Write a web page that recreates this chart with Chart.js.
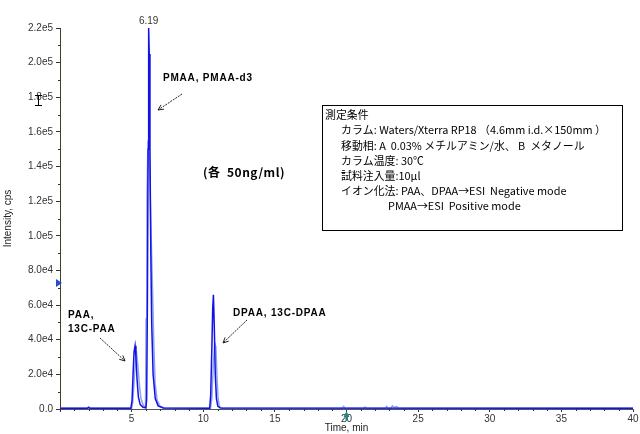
<!DOCTYPE html>
<html><head><meta charset="utf-8">
<script src="https://cdn.jsdelivr.net/npm/chart.js@4"></script>
<style>html,body{margin:0;padding:0;background:#fff;}#wrap{width:640px;height:434px;}</style>
</head><body><div id="wrap"><canvas id="c" width="640" height="434"></canvas></div>
<script>
// ---- data ----
const darkTimes  = [0, 1.9, 2.0, 2.1, 4.95, 5.03, 5.1, 5.17, 5.24, 5.3, 5.38, 5.47, 5.6, 5.8, 6.0, 6.05, 6.1, 6.15, 6.19, 6.23, 6.28, 6.34, 6.4, 6.5, 6.65, 6.85, 7.2, 10.45, 10.52, 10.6, 10.66, 10.71, 10.77, 10.84, 10.92, 11.02, 11.2, 40];
const darkValues = [450, 450, 1100, 450, 450, 5000, 20000, 33000, 36500, 30000, 17000, 7000, 2500, 1000, 700, 6000, 60000, 150000, 220000, 205000, 150000, 90000, 50000, 20000, 6000, 1800, 600, 450, 8000, 35000, 58000, 66000, 48000, 20000, 6000, 1500, 550, 450];
const lightTimes  = [0, 5.0, 5.08, 5.18, 5.28, 5.35, 5.43, 5.53, 5.65, 5.82, 5.97, 6.01, 6.07, 6.14, 6.24, 6.36, 6.47, 6.54, 6.64, 6.78, 7.0, 7.3, 10.5, 10.6, 10.7, 10.8, 10.88, 10.95, 11.03, 11.12, 11.3, 19.7, 19.8, 19.9, 21.2, 21.3, 21.4, 22.7, 22.8, 22.9, 23.1, 23.2, 23.35, 23.5, 23.6, 40];
const lightValues = [450, 450, 4000, 17000, 29000, 32000, 26000, 15000, 6000, 2000, 800, 52000, 120000, 155000, 145000, 100000, 66000, 40000, 15000, 5000, 1500, 550, 450, 6000, 25000, 38000, 36000, 20000, 7000, 1500, 500, 450, 1500, 450, 450, 1200, 450, 450, 1500, 450, 450, 1800, 800, 1500, 450, 450];
const yTickLabels = ['0.0','2.0e4','4.0e4','6.0e4','8.0e4','1.0e5','1.2e5','1.4e5','1.6e5','1.8e5','2.0e5','2.2e5'];
const xTickLabels = ['', '5', '10', '15', '20', '25', '30', '35', '40'];
const peakLabel = '6.19';
const boxLines = [
  '測定条件',
  'カラム: Waters/Xterra RP18 （4.6mm i.d.×150mm ）',
  '移動相: A  0.03% メチルアミン/水、 B  メタノール',
  'カラム温度: 30℃',
  '試料注入量:10μl',
  'イオン化法: PAA、DPAA→ESI  Negative mode',
  'PMAA→ESI  Positive mode'
];

const FONT = '"Liberation Sans", Arial, sans-serif';
const JP = '"Noto Sans CJK JP", sans-serif';

function pts(t, v){ return t.map((x,i)=>({x:x, y:v[i]})); }

function arrow(ctx, x1, y1, x2, y2){
  ctx.save();
  ctx.strokeStyle = '#222'; ctx.lineWidth = 1;
  ctx.setLineDash([2,1]);
  ctx.beginPath(); ctx.moveTo(x1,y1); ctx.lineTo(x2,y2); ctx.stroke();
  ctx.setLineDash([]);
  const a = Math.atan2(y2-y1, x2-x1), L = 6, s = 0.45;
  ctx.beginPath();
  ctx.moveTo(x2 - L*Math.cos(a - s), y2 - L*Math.sin(a - s));
  ctx.lineTo(x2, y2);
  ctx.lineTo(x2 - L*Math.cos(a + s), y2 - L*Math.sin(a + s));
  ctx.stroke();
  ctx.restore();
}

const annot = {
  id: 'annot',
  afterDraw(chart){
    const ctx = chart.ctx, xs = chart.scales.x, ys = chart.scales.y;
    ctx.save();
    // minor ticks
    ctx.strokeStyle = '#333'; ctx.lineWidth = 1;
    for (let t = 1; t < 40; t++){
      if (t % 5 === 0) continue;
      const px = Math.round(xs.getPixelForValue(t)) + 0.5;
      ctx.beginPath(); ctx.moveTo(px, ys.bottom); ctx.lineTo(px, ys.bottom + 2); ctx.stroke();
    }
    for (let v = 10000; v < 220000; v += 20000){
      const py = Math.round(ys.getPixelForValue(v)) + 0.5;
      ctx.beginPath(); ctx.moveTo(xs.left - 2, py); ctx.lineTo(xs.left, py); ctx.stroke();
    }
    // peak label
    ctx.fillStyle = '#333'; ctx.font = '10px ' + FONT;
    ctx.textAlign = 'center'; ctx.textBaseline = 'middle';
    ctx.fillText(peakLabel, xs.getPixelForValue(6.19), ys.top - 7);
    // compound labels
    ctx.fillStyle = '#000'; ctx.textAlign = 'left';
    ctx.font = 'bold 10px ' + FONT;
    ctx.letterSpacing = '0.8px';
    ctx.fillText('PMAA, PMAA-d3', 163, 78);
    ctx.fillText('PAA,', 68, 315);
    ctx.fillText('13C-PAA', 68, 329);
    ctx.fillText('DPAA, 13C-DPAA', 233, 313);
    ctx.letterSpacing = '0.5px';
    ctx.font = 'bold 12px ' + JP;
    ctx.fillText('(各  50ng/ml)', 203, 172);
    ctx.letterSpacing = '0px';
    arrow(ctx, 182, 94, 158, 110);
    arrow(ctx, 100, 338, 125, 361);
    arrow(ctx, 247, 320, 223, 343);
    // conditions box
    ctx.fillStyle = '#fff';
    ctx.fillRect(322.5, 105.5, 300, 125);
    ctx.strokeStyle = '#000'; ctx.lineWidth = 1;
    ctx.strokeRect(322.5, 105.5, 300, 125);
    ctx.fillStyle = '#000'; ctx.font = '10.9px ' + JP;
    const lx = [325, 341, 341, 341, 341, 341, 388];
    boxLines.forEach((s, i) => ctx.fillText(s, lx[i], 115 + i * 15.2));
    // cursor markers
    ctx.fillStyle = '#2848d8';
    ctx.beginPath(); ctx.moveTo(56, 279); ctx.lineTo(62, 283); ctx.lineTo(56, 287); ctx.closePath(); ctx.fill();
    ctx.strokeStyle = '#000';
    ctx.beginPath();
    ctx.moveTo(38.5, 95); ctx.lineTo(38.5, 106);
    ctx.moveTo(35, 95.5); ctx.lineTo(42, 95.5);
    ctx.moveTo(35, 105.5); ctx.lineTo(42, 105.5);
    ctx.stroke();
    const tx = xs.getPixelForValue(20);
    ctx.fillStyle = '#1e8a8a';
    ctx.beginPath(); ctx.moveTo(tx, ys.bottom + 2); ctx.lineTo(tx + 3, ys.bottom + 8); ctx.lineTo(tx + 1, ys.bottom + 8);
    ctx.lineTo(tx + 1, ys.bottom + 12); ctx.lineTo(tx - 1, ys.bottom + 12); ctx.lineTo(tx - 1, ys.bottom + 8); ctx.lineTo(tx - 3, ys.bottom + 8); ctx.closePath(); ctx.fill();
    ctx.restore();
  }
};

new Chart(document.getElementById('c'), {
  type: 'line',
  data: {
    datasets: [
      { label: 'dark', data: pts(darkTimes, darkValues), borderColor: '#1212e8', borderWidth: 1.5, pointRadius: 0, tension: 0 },
      { label: 'light', data: pts(lightTimes, lightValues), borderColor: '#8fa2ee', borderWidth: 1.5, pointRadius: 0, tension: 0 }
    ]
  },
  options: {
    responsive: false, animation: false, devicePixelRatio: 1,
    layout: { padding: { top: 28, right: 7, left: 0, bottom: 0 } },
    plugins: { legend: { display: false }, tooltip: { enabled: false } },
    scales: {
      x: {
        type: 'linear', min: 0, max: 40,
        ticks: { stepSize: 5, autoSkip: false, maxRotation: 0, padding: 1, color: '#333', font: { family: FONT, size: 10 },
                 callback: (v, i) => xTickLabels[i] },
        grid: { display: true, drawOnChartArea: false, drawTicks: true, tickLength: 3, color: '#333' },
        border: { display: true, color: '#555' },
        title: { display: true, text: 'Time, min', color: '#222', font: { family: FONT, size: 10 }, padding: { top: 0, bottom: 0 } },
        afterFit: s => { s.height = 25; }
      },
      y: {
        type: 'linear', min: 0, max: 220000,
        ticks: { stepSize: 20000, autoSkip: false, padding: 3, color: '#333', font: { family: FONT, size: 10 },
                 callback: (v, i) => yTickLabels[i] },
        grid: { display: true, drawOnChartArea: false, drawTicks: true, tickLength: 4, color: '#333' },
        border: { display: true, color: '#404020' },
        title: { display: true, text: 'Intensity, cps', color: '#222', font: { family: FONT, size: 10 }, padding: { top: 2, bottom: 0 } },
        afterFit: s => { s.width = 60; }
      }
    }
  },
  plugins: [annot]
});
</script>
</body></html>
